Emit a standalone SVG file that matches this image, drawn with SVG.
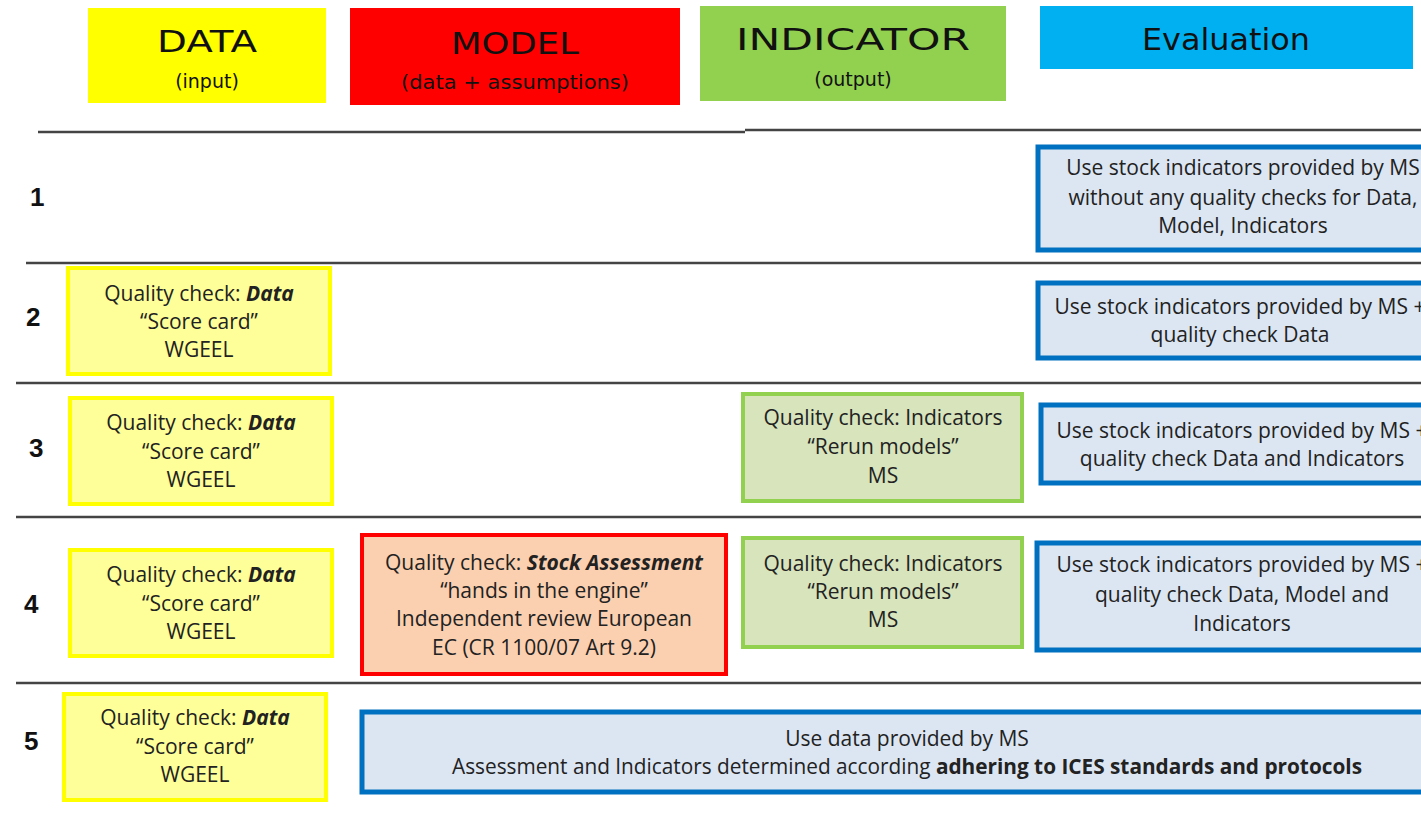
<svg xmlns="http://www.w3.org/2000/svg" width="1421" height="816" viewBox="0 0 1421 816">
<style>
.hdr{font-family:"DejaVu Sans",sans-serif;fill:#111;text-anchor:middle}
.h1{font-size:30px}
.h2{font-size:19px}
.t{font-family:"Open Sans","Noto Sans",sans-serif;font-size:21px;fill:#222;text-anchor:middle}
.num{font-family:"Liberation Sans",sans-serif;font-size:26px;font-weight:bold;fill:#111}
.bi{font-weight:bold;font-style:italic}
.b{font-weight:bold}
.sep{stroke:#444;stroke-width:2.5;fill:none}
.yel{fill:#FFFF99;stroke:#FFFF00;stroke-width:4}
.grn{fill:#D7E4BC;stroke:#92D050;stroke-width:4}
.red{fill:#FBD0B0;stroke:#FF0000;stroke-width:4}
.blu{fill:#DCE6F2;stroke:#0070C0;stroke-width:5}
</style>
<rect width="1421" height="816" fill="#fff"/>
<g id="header-data"><rect x="88" y="8" width="238" height="95" fill="#FFFF00"/><text class="hdr h1" x="207" y="52" textLength="100" lengthAdjust="spacingAndGlyphs">DATA</text><text class="hdr h2" x="207" y="88">(input)</text></g>
<g id="header-model"><rect x="350" y="8" width="330" height="97" fill="#FF0000"/><text class="hdr h1" x="515" y="54" textLength="128" lengthAdjust="spacingAndGlyphs">MODEL</text><text class="hdr h2" x="515" y="89" textLength="228" lengthAdjust="spacingAndGlyphs">(data + assumptions)</text></g>
<g id="header-indicator"><rect x="700" y="6" width="306" height="95" fill="#92D050"/><text class="hdr h1" x="853" y="50" textLength="234" lengthAdjust="spacingAndGlyphs">INDICATOR</text><text class="hdr h2" x="853" y="86">(output)</text></g>
<g id="header-evaluation"><rect x="1040" y="6" width="373" height="63" fill="#00B0F0"/><text class="hdr h1" x="1226" y="50" textLength="168" lengthAdjust="spacingAndGlyphs">Evaluation</text></g>
<g id="connectors">
<path class="sep" d="M38 132H745M745 130H1421"/>
<path class="sep" d="M26 263H1421"/>
<path class="sep" d="M16 383H1421"/>
<path class="sep" d="M16 517H1421"/>
<path class="sep" d="M16 683H1421"/>
</g>
<g id="row-numbers">
<text class="num" x="30" y="206">1</text>
<text class="num" x="26" y="326">2</text>
<text class="num" x="29" y="457">3</text>
<text class="num" x="24" y="613">4</text>
<text class="num" x="24" y="750">5</text>
</g>
<g id="eval-1"><rect class="blu" x="1038" y="147" width="420" height="103"/><text class="t" x="1243" y="175">Use stock indicators provided by MS</text><text class="t" x="1243" y="205">without any quality checks for Data,</text><text class="t" x="1243" y="233">Model, Indicators</text></g>
<g id="data-2"><rect class="yel" x="68" y="268" width="262" height="106"/><text class="t" x="199" y="301">Quality check: <tspan class="bi">Data</tspan></text><text class="t" x="199" y="329">“Score card”</text><text class="t" x="199" y="357">WGEEL</text></g>
<g id="eval-2"><rect class="blu" x="1038" y="283" width="420" height="75"/><text class="t" x="1240" y="314">Use stock indicators provided by MS +</text><text class="t" x="1240" y="342">quality check Data</text></g>
<g id="data-3"><rect class="yel" x="70" y="398" width="262" height="106"/><text class="t" x="201" y="430">Quality check: <tspan class="bi">Data</tspan></text><text class="t" x="201" y="459">“Score card”</text><text class="t" x="201" y="487">WGEEL</text></g>
<g id="indicator-3"><rect class="grn" x="743" y="394" width="279" height="107"/><text class="t" x="883" y="425">Quality check: Indicators</text><text class="t" x="883" y="454">“Rerun models”</text><text class="t" x="883" y="483">MS</text></g>
<g id="eval-3"><rect class="blu" x="1041" y="405" width="420" height="78"/><text class="t" x="1242" y="438">Use stock indicators provided by MS +</text><text class="t" x="1242" y="466">quality check Data and Indicators</text></g>
<g id="data-4"><rect class="yel" x="70" y="550" width="262" height="106"/><text class="t" x="201" y="582">Quality check: <tspan class="bi">Data</tspan></text><text class="t" x="201" y="611">“Score card”</text><text class="t" x="201" y="639">WGEEL</text></g>
<g id="model-4"><rect class="red" x="362" y="535" width="364" height="139"/><text class="t" x="544" y="570">Quality check: <tspan class="bi">Stock Assessment</tspan></text><text class="t" x="544" y="598">“hands in the engine”</text><text class="t" x="544" y="626">Independent review European</text><text class="t" x="544" y="655">EC (CR 1100/07 Art 9.2)</text></g>
<g id="indicator-4"><rect class="grn" x="743" y="538" width="279" height="109"/><text class="t" x="883" y="571">Quality check: Indicators</text><text class="t" x="883" y="599">“Rerun models”</text><text class="t" x="883" y="627">MS</text></g>
<g id="eval-4"><rect class="blu" x="1037" y="543" width="420" height="107"/><text class="t" x="1242" y="572">Use stock indicators provided by MS +</text><text class="t" x="1242" y="602">quality check Data, Model and</text><text class="t" x="1242" y="631">Indicators</text></g>
<g id="data-5"><rect class="yel" x="64" y="694" width="262" height="106"/><text class="t" x="195" y="725">Quality check: <tspan class="bi">Data</tspan></text><text class="t" x="195" y="754">“Score card”</text><text class="t" x="195" y="782">WGEEL</text></g>
<g id="eval-5"><rect class="blu" x="362" y="712" width="1100" height="80"/><text class="t" x="907" y="746">Use data provided by MS</text><text class="t" x="907" y="774" textLength="910" lengthAdjust="spacingAndGlyphs">Assessment and Indicators determined according <tspan class="b">adhering to ICES standards  and protocols</tspan></text></g>
</svg>
